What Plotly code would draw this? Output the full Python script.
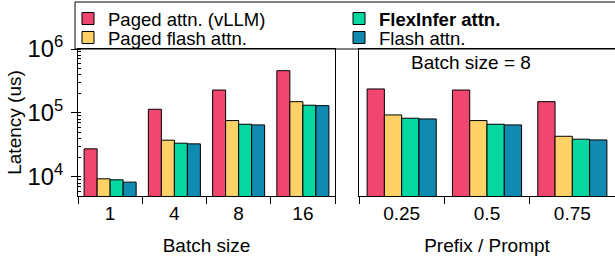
import plotly.graph_objects as go

series_names = ["Paged attn. (vLLM)", "Paged flash attn.", "<b>FlexInfer attn.</b>", "Flash attn."]
colors = ["#EF476F", "#FFD166", "#06D6A0", "#118AB2"]
legend_ids = ["legend", "legend2", "legend3", "legend4"]

batch_sizes = ["1", "4", "8", "16"]
batch_values = [
    [27400, 114000, 228000, 458000],
    [9300, 37400, 75900, 150000],
    [8980, 33600, 66500, 132000],
    [8260, 32800, 64900, 130000],
]

prefix_ratios = ["0.25", "0.5", "0.75"]
prefix_values = [
    [237000, 228000, 150000],
    [93000, 75900, 43100],
    [82600, 66500, 38800],
    [80500, 64900, 37800],
]

FONT = "Liberation Sans, Arial, Helvetica, sans-serif"
FS = 19
LFS = 18.5

fig = go.Figure()
for i, name in enumerate(series_names):
    fig.add_trace(go.Bar(
        x=batch_sizes, y=batch_values[i], name=name,
        marker=dict(color=colors[i], line=dict(color="black", width=1)),
        xaxis="x", yaxis="y", legend=legend_ids[i], showlegend=True,
    ))
for i, name in enumerate(series_names):
    fig.add_trace(go.Bar(
        x=prefix_ratios, y=prefix_values[i], name=name,
        marker=dict(color=colors[i], line=dict(color="black", width=1)),
        xaxis="x2", yaxis="y2", showlegend=False,
    ))

W, H = 615, 258
x1 = (78 / W, 335 / W)
x2 = (359 / W, 1.0)
ydom = (1 - 196 / H, 1 - 49 / H)

axis_common = dict(showline=True, linecolor="black", linewidth=1, showgrid=False,
                   zeroline=False)

legend_common = dict(orientation="v", yanchor="top", xanchor="left",
                     bgcolor="rgba(0,0,0,0)", borderwidth=0,
                     font=dict(size=LFS, family=FONT), itemclick=False,
                     tracegroupgap=0)

col_x = [68 / W, 339 / W]
row_y = [1.0, 1 - 19 / H]

fig.update_layout(
    width=W, height=H,
    margin=dict(l=0, r=0, t=0, b=0),
    paper_bgcolor="white", plot_bgcolor="white",
    font=dict(family=FONT, color="black", size=FS),
    barmode="group", bargap=0.19, bargroupgap=0,
    xaxis=dict(domain=x1, anchor="y", type="category", range=[-0.5, 3.5],
               ticks="outside", ticklen=7, tickcolor="black", tickson="boundaries",
               mirror=True, automargin=False, tickfont=dict(size=FS),
               title=dict(text="Batch size", font=dict(size=FS), standoff=15),
               **axis_common),
    yaxis=dict(domain=ydom, anchor="x", type="log", range=[3.70, 6.0],
               tickmode="linear", tick0=0, dtick=1,
               exponentformat="power", showexponent="all",
               ticks="outside", ticklen=6, tickcolor="black", mirror=True,
               tickfont=dict(size=FS), ticklabelstandoff=4,
               minor=dict(ticks="inside", ticklen=3, tickcolor="black", dtick="D1",
                          showgrid=False),
               automargin=False,
               title=dict(text="Latency (us)", font=dict(size=FS), standoff=0),
               **axis_common),
    xaxis2=dict(domain=x2, anchor="y2", type="category", range=[-0.5, 2.5],
                ticks="outside", ticklen=7, tickcolor="black", tickson="boundaries",
                mirror=True, automargin=False, tickfont=dict(size=FS),
                title=dict(text="Prefix / Prompt", font=dict(size=FS), standoff=15),
                **axis_common),
    yaxis2=dict(domain=ydom, anchor="x2", type="log", range=[3.70, 6.0],
                showticklabels=False, ticks="", automargin=False,
                **axis_common),
    legend=dict(x=col_x[0], y=row_y[0], **legend_common),
    legend2=dict(x=col_x[0], y=row_y[1], **legend_common),
    legend3=dict(x=col_x[1], y=row_y[0], **legend_common),
    legend4=dict(x=col_x[1], y=row_y[1], **legend_common),
    shapes=[dict(type="rect", xref="paper", yref="paper",
                 x0=75 / W, x1=1.02, y0=1 - 49 / H, y1=1 - 2 / H,
                 line=dict(color="black", width=1), fillcolor="white", layer="below")],
    annotations=[dict(text="Batch size = 8", xref="x2 domain", yref="y2 domain",
                      x=0.4375, y=0.905, xanchor="center", yanchor="middle",
                      showarrow=False, font=dict(size=FS))],
)

fig.write_html("out.html", config={"displayModeBar": False},
               post_script="document.body.style.margin='0';")
